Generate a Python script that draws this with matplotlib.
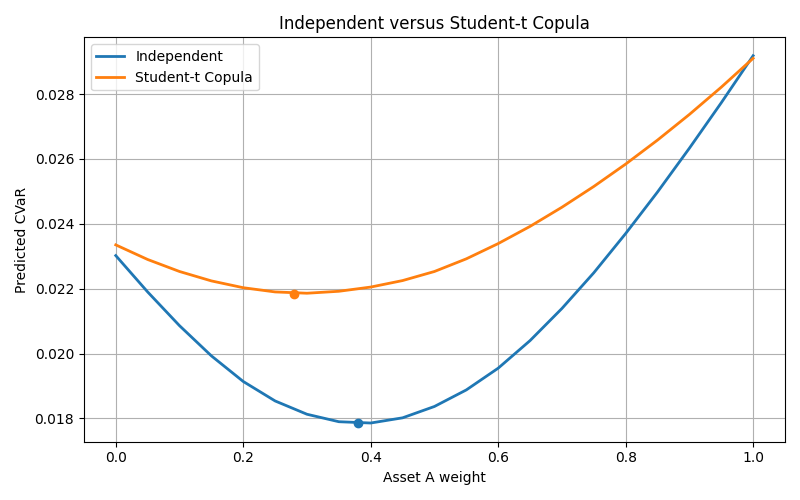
import matplotlib
matplotlib.use("Agg")
import matplotlib.pyplot as plt

# portfolio weight of asset A
weights = [0.0, 0.05, 0.1, 0.15, 0.2, 0.25, 0.3, 0.35, 0.4, 0.45, 0.5,
           0.55, 0.6, 0.65, 0.7, 0.75, 0.8, 0.85, 0.9, 0.95, 1.0]

# predicted CVaR
cvar_independent = [0.02302, 0.02190, 0.02086, 0.01993, 0.01914, 0.01854,
                    0.01813, 0.01790, 0.01786, 0.01802, 0.01837, 0.01888,
                    0.01955, 0.02040, 0.02139, 0.02249, 0.02370, 0.02498,
                    0.02633, 0.02773, 0.02918]
cvar_student_t = [0.02335, 0.02290, 0.02253, 0.02224, 0.02203, 0.02190,
                  0.02186, 0.02192, 0.02205, 0.02225, 0.02253, 0.02292,
                  0.02339, 0.02392, 0.02451, 0.02515, 0.02584, 0.02658,
                  0.02737, 0.02821, 0.02910]

# minimum CVaR points
min_weights = [0.38, 0.28]
min_cvar = [0.01785, 0.02184]

fig, ax = plt.subplots(figsize=(8, 5), dpi=100)
ax.plot(weights, cvar_independent, label="Independent", linewidth=2)
ax.plot(weights, cvar_student_t, label="Student-t Copula", linewidth=2)
ax.scatter(min_weights[0], min_cvar[0], color="C0", zorder=3)
ax.scatter(min_weights[1], min_cvar[1], color="C1", zorder=3)
ax.set_xlabel("Asset A weight")
ax.set_ylabel("Predicted CVaR")
ax.set_title("Independent versus Student-t Copula")
ax.legend(loc="upper left")
ax.grid(True)
fig.tight_layout()
fig.savefig("out.png")
